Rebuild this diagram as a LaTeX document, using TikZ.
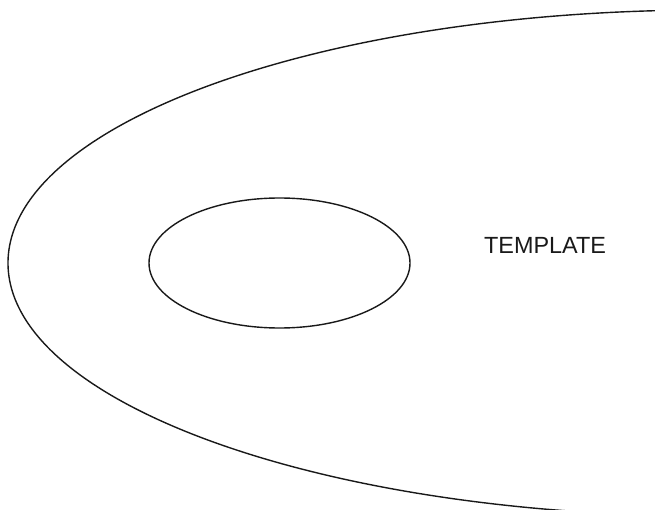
\documentclass[tikz,border=0pt]{standalone}
\usepackage{fontspec}
\setmainfont{Liberation Sans}
\begin{document}
\begin{tikzpicture}[x=1bp,y=-1bp,line width=1.4bp,
  curve/.style={draw=black!90}]
\useasboundingbox (0,0) rectangle (655,510);
\begin{scope}
\clip (0,0) rectangle (655,510);
\draw[curve] (708,263) ellipse [x radius=700, y radius=253];
\end{scope}
\draw[curve] (279.5,263) ellipse [x radius=130.5, y radius=65];
\node[font=\fontsize{23.5}{27}\selectfont, text=black!90, inner sep=0pt, anchor=base] (label) at (545,253.3) {TEMPLATE};
\end{tikzpicture}
\end{document}
